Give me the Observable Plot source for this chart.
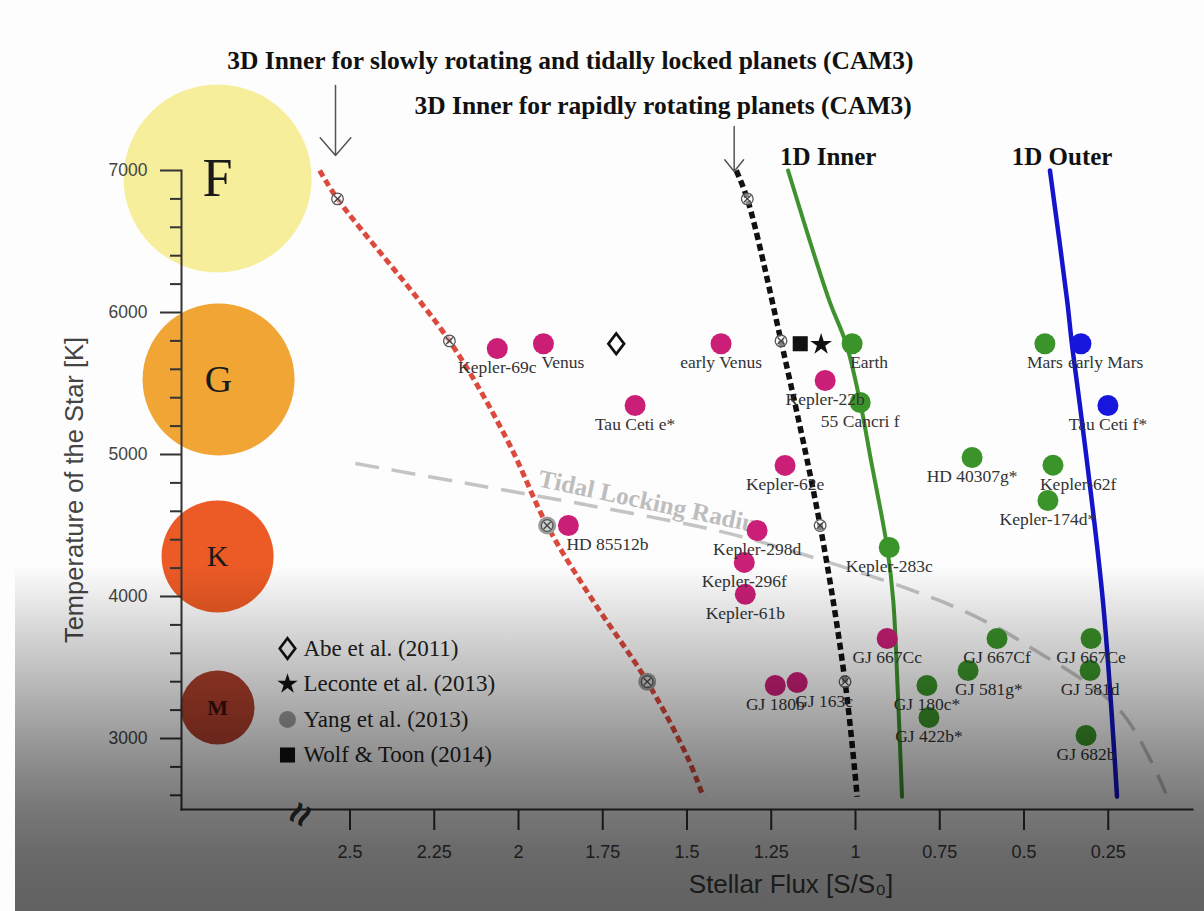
<!DOCTYPE html>
<html>
<head>
<meta charset="utf-8">
<script src="https://cdn.jsdelivr.net/npm/d3@7"></script>
<script src="https://cdn.jsdelivr.net/npm/@observablehq/plot@0.6"></script>
<style>
  html, body { margin: 0; padding: 0; background: #fdfdfd; }
  #wrap { position: relative; width: 1204px; height: 911px; overflow: hidden; }
  #wrap svg { position: absolute; left: 0; top: 0; overflow: visible; }
  #shade {
    position: absolute; left: 15px; top: 0; right: 0; bottom: 0; pointer-events: none;
    background: linear-gradient(to bottom,
      rgba(0,0,0,0) 0px, rgba(0,0,0,0) 565px, rgba(0,0,0,0.06) 590px,
      rgba(0,0,0,0.14) 625px, rgba(0,0,0,0.24) 670px, rgba(0,0,0,0.34) 715px,
      rgba(0,0,0,0.44) 760px, rgba(0,0,0,0.52) 805px, rgba(0,0,0,0.58) 850px,
      rgba(0,0,0,0.61) 900px, rgba(0,0,0,0.61) 911px);
  }
</style>
</head>
<body>
<div id="wrap"><div id="shade"></div></div>
<script>
// ---------------- data ----------------
// spectral classes (representative stellar temperature, drawn at the far-left flux)
const spectralClass = ["F", "G", "K", "M"];
const spectralFlux  = [2.893, 2.890, 2.893, 2.893];
const spectralTemp  = [6944, 5528, 4282, 3218];

// 3D inner edge, slowly rotating & tidally locked (CAM3)
const slowTemp = [7000, 6800, 5800, 5100, 4500, 4000, 3400, 2870, 2590];
const slowFlux = [2.59, 2.537, 2.205, 2.033, 1.915, 1.787, 1.618, 1.499, 1.452];
// 3D inner edge, rapidly rotating (CAM3)
const rapidTemp = [7000, 6800, 5800, 4500, 3400, 2590];
const rapidFlux = [1.354, 1.321, 1.221, 1.105, 1.031, 0.995];
// 1D inner edge
const inner1DTemp = [7000, 6085, 5782, 5366, 4958, 4345, 3972, 3300, 2590];
const inner1DFlux = [1.200, 1.078, 1.028, 0.986, 0.954, 0.906, 0.888, 0.874, 0.862];
// 1D outer edge
const outer1DTemp = [7000, 6085, 5782, 5345, 3972, 2590];
const outer1DFlux = [0.423, 0.372, 0.358, 0.334, 0.266, 0.224];
// tidal locking radius
const tidalTemp = [4937, 4782, 4627, 4465, 4303, 3972, 3782, 3669, 3197, 2613];
const tidalFlux = [2.484, 2.119, 1.757, 1.413, 1.164, 0.752, 0.580, 0.500, 0.215, 0.079];

// model runs marked on the 3D curves
const runFlux = [2.537, 2.205, 1.915, 1.618, 1.321, 1.221, 1.105, 1.031];
const runTemp = [6800, 5800, 4500, 3400, 6800, 5800, 4500, 3400];
// Yang et al. (2013)
const yangFlux = [1.915, 1.618];
const yangTemp = [4500, 3400];
// other studies
const abeFlux = [1.710],     abeTemp = [5780];
const lecFlux = [1.102],     lecTemp = [5775];
const wolfFlux = [1.164],    wolfTemp = [5780];

// planets
const planetName = ["Kepler-69c", "Venus", "Tau Ceti e*", "early Venus", "Kepler-22b", "Kepler-62e",
  "HD 85512b", "Kepler-298d", "Kepler-296f", "Kepler-61b", "GJ 667Cc", "GJ 180b", "GJ 163c",
  "Earth", "55 Cancri f", "Mars", "HD 40307g*", "Kepler-62f", "Kepler-174d*", "Kepler-283c",
  "GJ 667Cf", "GJ 667Ce", "GJ 581g*", "GJ 581d", "GJ 180c*", "GJ 422b*", "GJ 682b",
  "early Mars", "Tau Ceti f*"];
const planetFlux = [2.063, 1.926, 1.654, 1.399, 1.090, 1.209,
  1.852, 1.292, 1.330, 1.327, 0.906, 1.238, 1.173,
  1.010, 0.986, 0.438, 0.654, 0.414, 0.429, 0.900,
  0.580, 0.301, 0.666, 0.304, 0.788, 0.782, 0.316,
  0.331, 0.251];
const planetTemp = [5746, 5780, 5345, 5780, 5521, 4923,
  4500, 4465, 4240, 4015, 3704, 3373, 3394,
  5780, 5366, 5780, 4979, 4925, 4676, 4345,
  3704, 3704, 3479, 3479, 3373, 3148, 3021,
  5780, 5345];
const planetGroup = ["hot","hot","hot","hot","hot","hot","hot","hot","hot","hot","hot","hot","hot",
  "hz","hz","hz","hz","hz","hz","hz","hz","hz","hz","hz","hz","hz","hz",
  "cold","cold"];

// annotations
const titleText = ["3D Inner for slowly rotating and tidally locked planets (CAM3)",
  "3D Inner for rapidly rotating planets (CAM3)", "1D Inner", "1D Outer"];
const titleFlux = [1.846, 1.571, 1.081, 0.387];
const titleTemp = [7775, 7458, 7092, 7092];
const arrowFlux = [2.543, 1.360];
const arrowFrom = [7599, 7310];
const arrowTo   = [7106, 6993];
const tidalLabel = "Tidal Locking Radius";
const tidalLabelFlux = 1.603, tidalLabelTemp = 4662;

const legendLabel = ["Abe et al. (2011)", "Leconte et al. (2013)", "Yang et al. (2013)", "Wolf & Toon (2014)"];
const legendKind  = ["abe", "leconte", "yang", "wolf"];

const xTicks = [2.5, 2.25, 2, 1.75, 1.5, 1.25, 1, 0.75, 0.5, 0.25];
const yTicks = [3000, 4000, 5000, 6000, 7000];
const yMinor = [2600, 2800, 3200, 3400, 3600, 3800, 4200, 4400, 4600, 4800,
  5200, 5400, 5600, 5800, 6200, 6400, 6600, 6800];

// ---------------- styles ----------------
const classStyle = {
  F: {fill: "#f7ee9b", r: 94, size: 54},
  G: {fill: "#f1a534", r: 76, size: 38},
  K: {fill: "#ec5a25", r: 56, size: 30},
  M: {fill: "#b0402c", r: 37, size: 22}
};
const groupColor = {hot: "#cb1f77", hz: "#3b942a", cold: "#1616dc"};
const SERIF = "Liberation Serif, Times New Roman, serif";
const SANS = "Liberation Sans, Arial, Helvetica, sans-serif";

const zip = (xs, ys) => xs.map((v, i) => ({S: v, T: ys[i]}));
const spectral = spectralClass.map((c, i) => ({c, S: spectralFlux[i], T: spectralTemp[i]}));
const planets = planetName.map((n, i) => ({name: n, S: planetFlux[i], T: planetTemp[i], group: planetGroup[i]}));
const titles = titleText.map((t, i) => ({t, S: titleFlux[i], T: titleTemp[i]}));
const arrows = arrowFlux.map((s, i) => ({S: s, T1: arrowFrom[i], T2: arrowTo[i]}));

// label placement groups
const startLabels = new Set(["Venus", "Earth", "HD 85512b", "GJ 163c"]);
const shiftLabels = new Set(["early Mars", "Kepler-62f", "GJ 581g*"]);
const centerLabels = planets.filter(p => !startLabels.has(p.name) && !shiftLabels.has(p.name));

const diamondSymbol = {
  draw(ctx, size) {
    const r = Math.sqrt(size / Math.PI);
    const h = r * 1.25, w = r * 0.95;
    ctx.moveTo(0, -h); ctx.lineTo(w, 0); ctx.lineTo(0, h); ctx.lineTo(-w, 0); ctx.closePath();
  }
};

const legendMarks = legendKind.flatMap((k, i) => {
  const dy = -161 + i * 35.5;
  const base = {frameAnchor: "bottom-left", dx: 106, dy};
  let m;
  if (k === "abe") m = Plot.dot([0], {...base, symbol: diamondSymbol, r: 8.2, fill: "none", stroke: "#111", strokeWidth: 2.6});
  else if (k === "leconte") m = Plot.dot([0], {...base, symbol: "star", r: 6.4, fill: "#111"});
  else if (k === "yang") m = Plot.dot([0], {...base, r: 8.5, fill: "#a0a0a0"});
  else m = Plot.dot([0], {...base, symbol: "square", r: 8.5, fill: "#111"});
  return [m, Plot.text([legendLabel[i]], {frameAnchor: "bottom-left", dx: 122, dy, text: d => d,
    textAnchor: "start", lineAnchor: "middle", fontFamily: SERIF, fontSize: 23, fill: "#222"})];
});

const spectralMarks = spectral.map(d =>
  Plot.dot([d], {x: "S", y: "T", r: classStyle[d.c].r, fill: classStyle[d.c].fill}));
const spectralText = spectral.map(d =>
  Plot.text([d], {x: "S", y: "T", text: "c", fontFamily: SERIF, fontSize: classStyle[d.c].size,
    fill: d.c === "M" ? "#3a0f0a" : "#1a1a1a", fontWeight: d.c === "M" ? "bold" : "normal",
    lineAnchor: "middle", textAnchor: "middle"}));

const labelStyle = {x: "S", y: "T", text: "name", fontFamily: SERIF, fontSize: 17.5, fill: "#333", lineAnchor: "middle", dy: 19};
const dashed = {strokeLinecap: "butt", strokeLinejoin: "round"};

const chart = Plot.plot({
  width: 1204, height: 911,
  marginLeft: 181, marginRight: 12, marginTop: 170, marginBottom: 102,
  x: {domain: [3, 0]},
  y: {domain: [2500, 7000]},
  style: {background: "transparent", overflow: "visible"},
  marks: [
    ...spectralMarks,
    ...spectralText,
    Plot.frame({anchor: "left", stroke: "#333", strokeWidth: 2}),
    Plot.frame({anchor: "bottom", stroke: "#333", strokeWidth: 2}),
    Plot.axisY(yTicks, {tickSize: 21, tickPadding: 13, tickFormat: d => String(d), fontSize: 17.5, fontFamily: SANS, stroke: "#333", strokeWidth: 2, fill: "#444", label: null}),
    Plot.axisY(yMinor, {tickSize: 11, tickFormat: () => "", stroke: "#333", strokeWidth: 2, label: null}),
    Plot.axisX(xTicks, {tickSize: 21, tickPadding: 15, tickFormat: d => String(d), fontSize: 18, fontFamily: SANS, stroke: "#333", strokeWidth: 2, fill: "#444", label: null}),
    Plot.text(["Stellar Flux [S/S\u2080]"], {frameAnchor: "bottom", dx: 104, dy: 75, text: d => d, textAnchor: "middle", lineAnchor: "middle", fontFamily: SANS, fontSize: 26, fill: "#444"}),
    Plot.text(["Temperature of the Star [K]"], {frameAnchor: "left", dx: -107, text: d => d, rotate: -90, textAnchor: "middle", lineAnchor: "middle", fontFamily: SANS, fontSize: 25.5, fill: "#444"}),
    Plot.text(["\u2248"], {frameAnchor: "bottom-left", dx: 119, dy: 5, text: d => d, rotate: -62, textAnchor: "middle", lineAnchor: "middle", fontFamily: SANS, fontSize: 40, fontWeight: "bold", fill: "#333"}),

    // tidal locking radius
    Plot.line(zip(tidalFlux, tidalTemp), {x: "S", y: "T", curve: "catmull-rom", stroke: "#c4c4c4", strokeWidth: 3.5, strokeDasharray: "24,13", ...dashed}),
    Plot.text([tidalLabel], {x: () => tidalLabelFlux, y: () => tidalLabelTemp, text: d => d, rotate: 12, fontFamily: SERIF, fontWeight: "bold", fontSize: 25, fill: "#bdbdbd", lineAnchor: "middle"}),

    // habitable zone edges
    Plot.line(zip(slowFlux, slowTemp), {x: "S", y: "T", curve: "catmull-rom", stroke: "#dc4a3e", strokeWidth: 5, strokeDasharray: "7,4", ...dashed}),
    Plot.line(zip(rapidFlux, rapidTemp), {x: "S", y: "T", curve: "catmull-rom", stroke: "#111", strokeWidth: 5.5, strokeDasharray: "7,4", ...dashed}),
    Plot.line(zip(inner1DFlux, inner1DTemp), {x: "S", y: "T", curve: "catmull-rom", stroke: "#3f932f", strokeWidth: 4}),
    Plot.line(zip(outer1DFlux, outer1DTemp), {x: "S", y: "T", curve: "catmull-rom", stroke: "#1414cc", strokeWidth: 4.5}),

    // Yang et al. and model runs
    Plot.dot(zip(yangFlux, yangTemp), {x: "S", y: "T", r: 9, fill: "#9c9c9c"}),
    Plot.dot(zip(runFlux, runTemp), {x: "S", y: "T", r: 5.8, stroke: "#555", strokeWidth: 1.3, fill: "#fff", fillOpacity: 0.5}),
    Plot.dot(zip(runFlux, runTemp), {x: "S", y: "T", r: 3.2, symbol: "times", stroke: "#444", strokeWidth: 1.3}),

    // other studies
    Plot.dot(zip(abeFlux, abeTemp), {x: "S", y: "T", symbol: diamondSymbol, r: 8.2, fill: "#fff", stroke: "#111", strokeWidth: 2.8}),
    Plot.dot(zip(wolfFlux, wolfTemp), {x: "S", y: "T", symbol: "square", r: 8.5, fill: "#111"}),
    Plot.dot(zip(lecFlux, lecTemp), {x: "S", y: "T", symbol: "star", r: 6.8, fill: "#111"}),

    // planets
    Plot.dot(planets, {x: "S", y: "T", r: 10.5, fill: d => groupColor[d.group]}),
    Plot.text(centerLabels, {...labelStyle, textAnchor: "middle"}),
    Plot.text(planets.filter(p => startLabels.has(p.name)), {...labelStyle, textAnchor: "start", dx: -2}),
    Plot.text(planets.filter(p => shiftLabels.has(p.name)), {...labelStyle, textAnchor: "start", dx: -13}),

    // legend
    ...legendMarks,

    // titles and arrows
    Plot.text(titles, {x: "S", y: "T", text: "t", fontFamily: SERIF, fontWeight: "bold", fontSize: d => d.t.startsWith("1D") ? 25 : 25.5, fill: "#111", lineAnchor: "middle"}),
    Plot.arrow(arrows.slice(0, 1), {x: "S", y1: "T1", y2: "T2", stroke: "#555", strokeWidth: 1.5, headLength: 30, headAngle: 82}),
    Plot.arrow(arrows.slice(1), {x: "S", y1: "T1", y2: "T2", stroke: "#555", strokeWidth: 1.5, headLength: 21, headAngle: 78})
  ]
});

document.getElementById("wrap").insertBefore(chart, document.getElementById("shade"));
</script>
</body>
</html>
